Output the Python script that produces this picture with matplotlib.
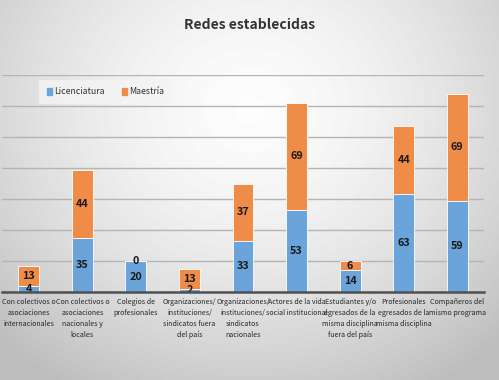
import numpy as np
import matplotlib.pyplot as plt
from matplotlib.patches import Patch

categorias = [
    "Con colectivos o\nasociaciones\ninternacionales",
    "Con colectivos o\nasociaciones\nnacionales y\nlocales",
    "Colegios de\nprofesionales",
    "Organizaciones/\ninstituciones/\nsindicatos fuera\ndel país",
    "Organizaciones/\ninstituciones/\nsindicatos\nnacionales",
    "Actores de la vida\nsocial institucional",
    "Estudiantes y/o\negresados de la\nmisma disciplina\nfuera del país",
    "Profesionales\negresados de la\nmisma disciplina",
    "Compañeros del\nmismo programa",
]
licenciatura = [4, 35, 20, 2, 33, 53, 14, 63, 59]
maestria = [13, 44, 0, 13, 37, 69, 6, 44, 69]

azul = '#6aa4da'
naranja = '#ef8c48'
plt.rcParams['font.family'] = ['Noto Sans CJK SC', 'DejaVu Sans']

fig = plt.figure(figsize=(4.99, 3.80), dpi=100)

# fondo con degradado radial
bg = fig.add_axes([0, 0, 1, 1])
yy, xx = np.mgrid[0:380, 0:499]
d = np.sqrt(((xx - 250) / 330.0) ** 2 + ((yy - 110) / 300.0) ** 2)
grad = np.clip(0.99 - 0.22 * d ** 1.6, 0.74, 1.0)
bg.imshow(grad, cmap='gray', vmin=0, vmax=1, aspect='auto', extent=[0, 1, 0, 1])
bg.set_axis_off()

ax = fig.add_axes([2 / 499, (380 - 292) / 380, 482 / 499, (292 - 75) / 380])
ax.patch.set_alpha(0)
x = np.arange(len(categorias))
ancho = 0.39
ax.bar(x, licenciatura, ancho, color=azul, edgecolor='white', linewidth=0.6, zorder=3)
ax.bar(x, maestria, ancho, bottom=licenciatura, color=naranja, edgecolor='white', linewidth=0.6, zorder=3)

for i in range(len(x)):
    ax.text(x[i], licenciatura[i] / 2, str(licenciatura[i]), ha='center', va='center',
            fontsize=7.8, fontweight='bold', color='#1a1a1a', zorder=4)
    ax.text(x[i], licenciatura[i] + maestria[i] / 2, str(maestria[i]), ha='center', va='center',
            fontsize=7.8, fontweight='bold', color='#1a1a1a', zorder=4)

ax.set_xlim(-0.5, len(x) - 0.5)
ax.set_ylim(0, 140)
ax.set_yticks(np.arange(0, 141, 20))
ax.yaxis.grid(True, color='#b4b4b4', linewidth=1.0, zorder=0)
ax.tick_params(axis='y', length=0, labelleft=False)
ax.set_xticks(x)
ax.set_xticklabels(categorias, fontsize=5.1, color='#262626', linespacing=1.5)
ax.tick_params(axis='x', length=0, pad=4)
for s in ['top', 'right', 'left']:
    ax.spines[s].set_visible(False)
ax.spines['bottom'].set_color('#505050')
ax.spines['bottom'].set_linewidth(1.8)
ax.spines['bottom'].set_zorder(5)

fig.text(0.5, 0.935, 'Redes establecidas', ha='center', va='center',
         fontsize=10, fontweight='bold', color='#333333')

handles = [Patch(color=azul, label='Licenciatura'), Patch(color=naranja, label='Maestría')]
leg = fig.legend(handles=handles, loc='center left', bbox_to_anchor=(0.07, 0.758), ncol=2,
                 fontsize=6.3, frameon=True, handlelength=0.55, handleheight=0.8,
                 handletextpad=0.3, columnspacing=1.9, borderpad=0.9)
leg.get_frame().set_facecolor('#f4f4f4')
leg.get_frame().set_edgecolor('none')
leg.get_frame().set_boxstyle('square', pad=0)
for t in leg.get_texts():
    t.set_color('#333333')

fig.savefig('out.png', dpi=100)
